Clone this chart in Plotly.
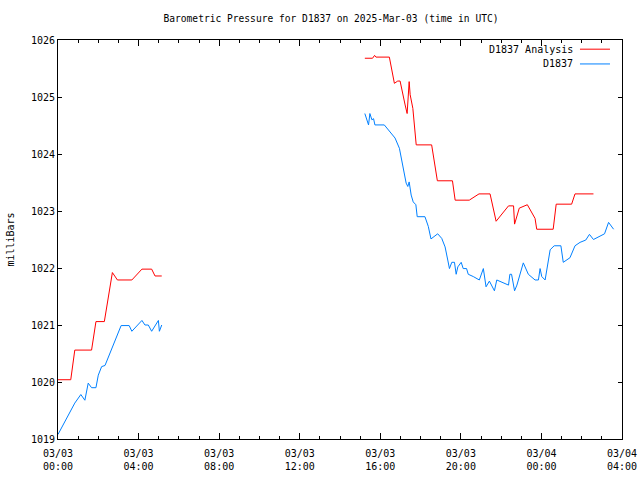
import plotly.graph_objects as go

# Analysis (red) series: time stamps and pressure (mbar); None marks the data gap
analysis_time = [
    "2025-03-03 00:00", "2025-03-03 00:38", "2025-03-03 00:50", "2025-03-03 01:40",
    "2025-03-03 01:53", "2025-03-03 02:18", "2025-03-03 02:42", "2025-03-03 02:57",
    "2025-03-03 03:40", "2025-03-03 04:10", "2025-03-03 04:39", "2025-03-03 04:49",
    "2025-03-03 05:09", "2025-03-03 10:00",
    "2025-03-03 15:14", "2025-03-03 15:37", "2025-03-03 15:43", "2025-03-03 15:47",
    "2025-03-03 16:27", "2025-03-03 16:34", "2025-03-03 16:42", "2025-03-03 16:52",
    "2025-03-03 16:59", "2025-03-03 17:14", "2025-03-03 17:20", "2025-03-03 17:26",
    "2025-03-03 17:29", "2025-03-03 17:37", "2025-03-03 17:47", "2025-03-03 18:33",
    "2025-03-03 18:50", "2025-03-03 19:35", "2025-03-03 19:43", "2025-03-03 20:25",
    "2025-03-03 20:54", "2025-03-03 21:27", "2025-03-03 21:45", "2025-03-03 22:22",
    "2025-03-03 22:37", "2025-03-03 22:40", "2025-03-03 22:54", "2025-03-03 23:18",
    "2025-03-03 23:41", "2025-03-03 23:46", "2025-03-04 00:35", "2025-03-04 00:44",
    "2025-03-04 01:30", "2025-03-04 01:40", "2025-03-04 02:35",
]
analysis_mb = [
    1020.04, 1020.04, 1020.56, 1020.56,
    1021.06, 1021.06, 1021.92, 1021.79,
    1021.79, 1021.98, 1021.98, 1021.86,
    1021.86, None,
    1025.68, 1025.68, 1025.73, 1025.70,
    1025.70, 1025.50, 1025.24, 1025.28,
    1025.28, 1024.86, 1024.71, 1025.27,
    1025.04, 1024.80, 1024.16, 1024.16,
    1023.53, 1023.53, 1023.19, 1023.19,
    1023.30, 1023.30, 1022.82, 1023.09,
    1023.09, 1022.77, 1023.05, 1023.11,
    1022.87, 1022.68, 1022.68, 1023.12,
    1023.12, 1023.30, 1023.30,
]

# Observed D1837 (blue) series
obs_time = [
    "2025-03-03 00:00", "2025-03-03 00:50", "2025-03-03 01:08", "2025-03-03 01:20",
    "2025-03-03 01:30", "2025-03-03 01:40", "2025-03-03 01:53", "2025-03-03 02:00",
    "2025-03-03 02:10", "2025-03-03 02:20", "2025-03-03 03:08", "2025-03-03 03:32",
    "2025-03-03 03:40", "2025-03-03 04:10", "2025-03-03 04:19", "2025-03-03 04:29",
    "2025-03-03 04:39", "2025-03-03 04:59", "2025-03-03 05:02", "2025-03-03 05:09",
    "2025-03-03 10:00",
    "2025-03-03 15:14", "2025-03-03 15:25", "2025-03-03 15:29", "2025-03-03 15:35",
    "2025-03-03 15:40", "2025-03-03 15:44", "2025-03-03 16:12", "2025-03-03 16:34",
    "2025-03-03 16:44", "2025-03-03 16:57", "2025-03-03 17:07", "2025-03-03 17:17",
    "2025-03-03 17:22", "2025-03-03 17:26", "2025-03-03 17:32", "2025-03-03 17:38",
    "2025-03-03 17:46", "2025-03-03 17:50", "2025-03-03 18:13", "2025-03-03 18:23",
    "2025-03-03 18:31", "2025-03-03 18:41", "2025-03-03 18:51", "2025-03-03 19:03",
    "2025-03-03 19:13", "2025-03-03 19:21", "2025-03-03 19:26", "2025-03-03 19:33",
    "2025-03-03 19:41", "2025-03-03 19:46", "2025-03-03 19:51", "2025-03-03 20:01",
    "2025-03-03 20:07", "2025-03-03 20:17", "2025-03-03 20:22", "2025-03-03 20:37",
    "2025-03-03 20:55", "2025-03-03 21:07", "2025-03-03 21:15", "2025-03-03 21:25",
    "2025-03-03 21:40", "2025-03-03 21:47", "2025-03-03 22:07", "2025-03-03 22:22",
    "2025-03-03 22:26", "2025-03-03 22:31", "2025-03-03 22:40", "2025-03-03 22:47",
    "2025-03-03 23:06", "2025-03-03 23:21", "2025-03-03 23:41", "2025-03-03 23:51",
    "2025-03-03 23:56", "2025-03-04 00:01", "2025-03-04 00:11", "2025-03-04 00:26",
    "2025-03-04 00:38", "2025-03-04 00:58", "2025-03-04 01:05", "2025-03-04 01:25",
    "2025-03-04 01:40", "2025-03-04 01:55", "2025-03-04 02:12", "2025-03-04 02:23",
    "2025-03-04 02:35", "2025-03-04 02:50", "2025-03-04 03:08", "2025-03-04 03:20",
    "2025-03-04 03:35",
]
obs_mb = [
    1019.08, 1019.63, 1019.78, 1019.68,
    1019.98, 1019.90, 1019.90, 1020.12,
    1020.27, 1020.29, 1020.99, 1020.99,
    1020.89, 1021.08, 1021.00, 1021.00,
    1020.89, 1021.08, 1020.89, 1021.00,
    None,
    1024.71, 1024.51, 1024.71, 1024.60,
    1024.62, 1024.51, 1024.51, 1024.36,
    1024.28, 1024.10, 1023.78, 1023.49,
    1023.43, 1023.51, 1023.28, 1023.16,
    1023.11, 1022.90, 1022.90, 1022.73,
    1022.51, 1022.55, 1022.60, 1022.52,
    1022.37, 1022.14, 1021.99, 1022.10,
    1022.10, 1021.89, 1022.02, 1022.10,
    1021.99, 1021.99, 1021.89, 1021.85,
    1021.79, 1021.99, 1021.67, 1021.77,
    1021.60, 1021.79, 1021.74, 1021.70,
    1021.89, 1021.89, 1021.60, 1021.70,
    1022.09, 1021.89, 1021.79, 1021.79,
    1021.99, 1021.85, 1021.79, 1022.32,
    1022.39, 1022.39, 1022.10, 1022.18,
    1022.39, 1022.45, 1022.49, 1022.59,
    1022.50, 1022.54, 1022.60, 1022.80,
    1022.68,
]

series_names = ["D1837 Analysis", "D1837"]
series_colors = ["#ff0000", "#0080ff"]
y_ticks = [1019, 1020, 1021, 1022, 1023, 1024, 1025, 1026]

FONT = "DejaVu Sans Mono"

fig = go.Figure()
fig.add_trace(go.Scatter(x=analysis_time, y=analysis_mb, mode="lines",
                         name=series_names[0], connectgaps=False,
                         line=dict(color=series_colors[0], width=1)))
fig.add_trace(go.Scatter(x=obs_time, y=obs_mb, mode="lines",
                         name=series_names[1], connectgaps=False,
                         line=dict(color=series_colors[1], width=1)))

axis_common = dict(showline=True, linecolor="black", linewidth=1, mirror="ticks",
                   ticks="inside", tickcolor="black", showgrid=False, zeroline=False,
                   automargin=False,
                   tickfont=dict(family=FONT, size=10, color="black"))

fig.update_xaxes(**axis_common, type="date",
                 range=["2025-03-03 00:00", "2025-03-04 04:00"],
                 dtick=4 * 3600000, tick0="2025-03-03 00:00", ticklen=6,
                 tickformat="%m/%d<br>%H:%M", ticklabelstandoff=5,
                 minor=dict(dtick=3600000, tick0="2025-03-03 00:00", ticks="inside",
                            ticklen=3, tickcolor="black", showgrid=False))
fig.update_yaxes(**axis_common, range=[1019, 1026], tickvals=y_ticks, ticklen=4)

annotations = [
    dict(text="milliBars", xref="paper", yref="paper", x=-0.085, y=0.5,
         xanchor="center", yanchor="middle",
         textangle=-90, showarrow=False, font=dict(family=FONT, size=10, color="black")),
]
shapes = []
legend_y = [0.977, 0.94]
for name, color, ly in zip(series_names, series_colors, legend_y):
    annotations.append(dict(text=name, xref="paper", yref="paper", x=0.917, y=ly,
                            xanchor="right", yanchor="middle", showarrow=False,
                            font=dict(family=FONT, size=10, color="black")))
    shapes.append(dict(type="line", xref="paper", yref="paper", x0=0.9255, x1=0.9787,
                       y0=ly, y1=ly, line=dict(color=color, width=1)))

fig.update_layout(
    width=640, height=480,
    margin=dict(l=58, r=18, t=40, b=41),
    paper_bgcolor="white", plot_bgcolor="white",
    showlegend=False,
    title=dict(text="Barometric Pressure for D1837 on 2025-Mar-03 (time in UTC)",
               x=331 / 640, xanchor="center", xref="container",
               y=1 - 19 / 480, yanchor="middle", yref="container",
               font=dict(family=FONT, size=9.6, color="black")),
    annotations=annotations,
    shapes=shapes,
)

fig.write_html("out.html")
